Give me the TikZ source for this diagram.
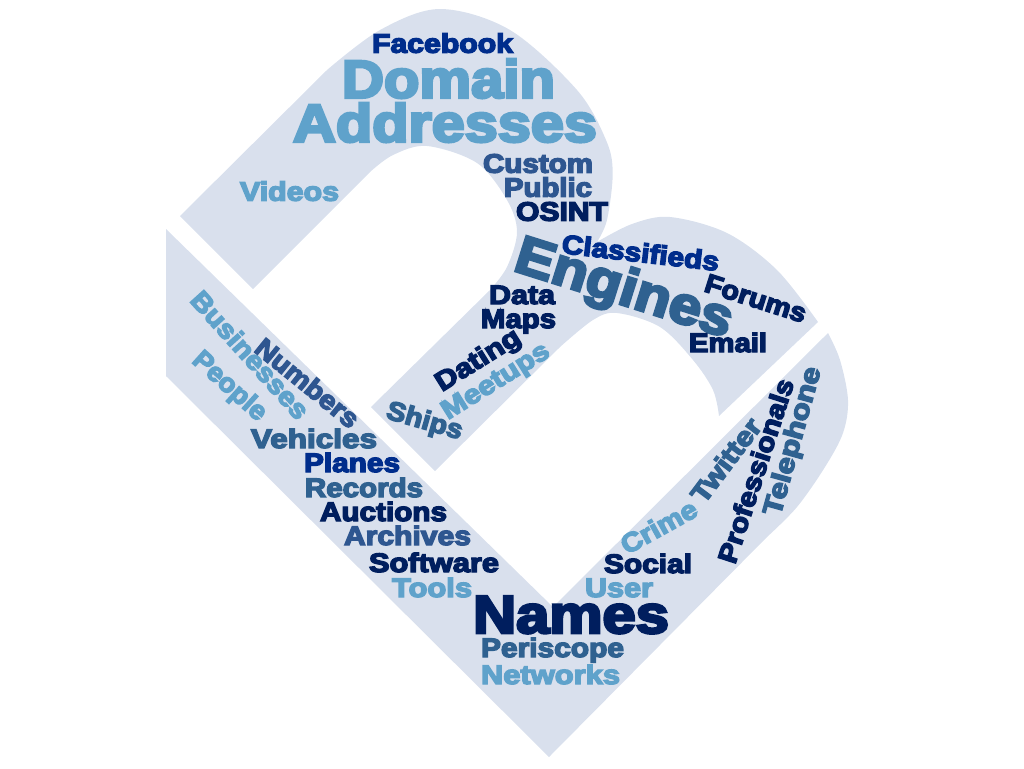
\documentclass[tikz,border=0pt]{standalone}
\usepackage{fontspec}
\usepackage{graphicx}
\newfontfamily\wordfont[BoldFeatures={FakeBold=5}]{Liberation Sans}
\definecolor{shapefill}{HTML}{D9E0ED}
\definecolor{skyw}{HTML}{5FA2CB}
\definecolor{navyw}{HTML}{001E5E}
\definecolor{steelw}{HTML}{2F6190}
\definecolor{slatew}{HTML}{2E5690}
\definecolor{royalw}{HTML}{002D8C}
\newdimen\pxu \pxu=0.75pt
\tikzset{wordnode/.style={inner sep=0pt,outer sep=0pt,anchor=base west}}
% name, x, y, angle, width(px), font size(pt), colour, text
\newcommand\Wrd[8]{\node[wordnode,text=#7,rotate=#4] (#1) at (#2,#3) {\resizebox{#5\pxu}{\height}{\fontsize{#6pt}{#6pt}\wordfont\bfseries #8}};}
\begin{document}
\begin{tikzpicture}[x=0.75pt,y=-0.75pt]
\useasboundingbox (0,0) rectangle (1024,768);
% upper band
\fill[shapefill] (180,216) -- (327,70)
  -- plot[smooth,tension=0.55] coordinates {(327,70) (380,30) (440,9) (510,30) (577,90) (606,140) (612.7,173) (607,220) (597,242)}
  -- plot[smooth,tension=0.55] coordinates {(597,242) (632,224) (670,217) (727,233) (777,270) (818,322)}
  -- (719,416)
  -- plot[smooth,tension=0.55] coordinates {(719,416) (713,390) (693,360) (660,327) (617,313) (593,320) (560,347)}
  -- (435,471) -- (371,407) -- (490,290)
  -- plot[smooth,tension=0.55] coordinates {(490,290) (507,267) (517,232) (507,200) (477,163) (427,146) (393,155) (370,172)}
  -- (253,289) -- cycle;
% lower band
\fill[shapefill] (166,229) -- (553,607) -- (828,333)
  -- plot[smooth,tension=0.55] coordinates {(828,333) (840,360) (848,400) (843,433) (825,467) (797,507) (767,537)}
  -- (549,757) -- (166,376) -- cycle;
\Wrd{facebook}{372}{52.7}{0}{141}{20}{royalw}{Facebook}
\Wrd{domain}{342}{97.7}{0}{213}{40}{skyw}{Domain}
\Wrd{addresses}{293}{141.7}{0}{304}{40}{skyw}{Addresses}
\Wrd{videos}{240}{200.7}{0}{99}{20}{skyw}{Videos}
\Wrd{custom}{483}{172.7}{0}{110}{20}{slatew}{Custom}
\Wrd{public}{504}{196.7}{0}{88}{20}{slatew}{Public}
\Wrd{osint}{516}{220.7}{0}{92}{20}{navyw}{OSINT}
\Wrd{engines}{512}{270}{-17.5}{225}{40}{steelw}{Engines}
\Wrd{classifieds}{561}{253}{-6.5}{158}{20}{royalw}{Classifieds}
\Wrd{forums}{703}{291}{-17.7}{105}{20}{navyw}{Forums}
\Wrd{email}{689}{352}{0}{78}{20}{navyw}{Email}
\Wrd{data}{489}{304}{0}{66}{20}{navyw}{Data}
\Wrd{maps}{481}{328}{0}{75}{20}{navyw}{Maps}
\Wrd{dating}{442}{392}{32}{95}{20}{navyw}{Dating}
\Wrd{meetups}{448}{420}{32}{122}{20}{skyw}{Meetups}
\Wrd{ships}{385}{418}{-16}{78}{20}{steelw}{Ships}
\Wrd{businesses}{189}{301}{-48}{162}{20}{skyw}{Businesses}
\Wrd{people}{191}{362}{-42}{90}{20}{skyw}{People}
\Wrd{numbers}{253}{351}{-39}{125}{20}{slatew}{Numbers}
\Wrd{vehicles}{251}{448}{0}{126}{20}{steelw}{Vehicles}
\Wrd{planes}{304}{472}{0}{96}{20}{royalw}{Planes}
\Wrd{records}{305}{497}{0}{118}{20}{steelw}{Records}
\Wrd{auctions}{320}{521}{0}{127}{20}{navyw}{Auctions}
\Wrd{archives}{344}{545}{0}{127}{20}{slatew}{Archives}
\Wrd{software}{369}{572}{0}{130}{20}{navyw}{Software}
\Wrd{tools}{392}{597}{0}{80}{20}{skyw}{Tools}
\Wrd{names}{473}{633}{0}{196}{40}{navyw}{Names}
\Wrd{periscope}{481}{657}{0}{143}{20}{steelw}{Periscope}
\Wrd{networks}{481}{684}{0}{139}{20}{skyw}{Networks}
\Wrd{user}{585}{597}{0}{68}{20}{skyw}{User}
\Wrd{social}{604}{573}{0}{88}{20}{navyw}{Social}
\Wrd{crime}{627}{555}{29}{83}{20}{skyw}{Crime}
\Wrd{twitter}{704}{505}{53}{98}{20}{steelw}{Twitter}
\Wrd{professionals}{735}{565}{72}{192}{20}{navyw}{Professionals}
\Wrd{telephone}{780}{517}{74.5}{153}{20}{steelw}{Telephone}
\end{tikzpicture}
\end{document}
